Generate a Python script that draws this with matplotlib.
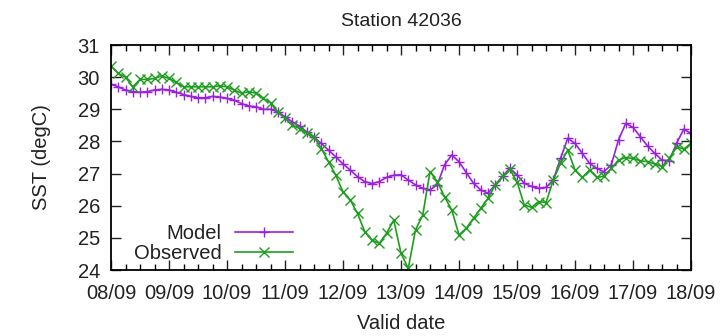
import matplotlib
matplotlib.use("Agg")
import matplotlib.pyplot as plt
import numpy as np
from matplotlib.ticker import MultipleLocator

plt.rcParams['font.family'] = ['Liberation Sans', 'DejaVu Sans']

title = "Station 42036"
xlabel = "Valid date"
ylabel = "SST (degC)"
date_labels = ["08/09", "09/09", "10/09", "11/09", "12/09", "13/09",
               "14/09", "15/09", "16/09", "17/09", "18/09"]
y_ticks = [24, 25, 26, 27, 28, 29, 30, 31]

# 3-hourly values (days since 08/09)
model = [29.78, 29.70, 29.60, 29.55, 29.53, 29.55, 29.60, 29.62, 29.60, 29.53,
         29.46, 29.40, 29.36, 29.36, 29.40, 29.38, 29.34, 29.28, 29.18, 29.10,
         29.08, 29.00, 29.00, 28.92, 28.77, 28.61, 28.48, 28.30, 28.13, 27.94,
         27.73, 27.52, 27.30, 27.11, 26.90, 26.75, 26.69, 26.75, 26.88, 26.95,
         26.96, 26.80, 26.65, 26.54, 26.49, 26.65, 27.27, 27.58, 27.37, 27.03,
         26.70, 26.49, 26.39, 26.65, 26.91, 27.17, 26.96, 26.70, 26.60, 26.54,
         26.57, 26.80, 27.47, 28.10, 27.94, 27.63, 27.32, 27.16, 27.06, 27.27,
         28.05, 28.56, 28.44, 28.15, 27.86, 27.63, 27.42, 27.40, 27.94, 28.38,
         28.25]
observed = [30.35, 30.12, 30.00, 29.70, 29.93, 29.93, 29.96, 30.04, 29.96, 29.84,
            29.70, 29.70, 29.70, 29.70, 29.70, 29.73, 29.70, 29.60, 29.50, 29.55,
            29.50, 29.34, 29.20, 28.92, 28.72, 28.51, 28.40, 28.27, 28.15, 27.78,
            27.37, 26.95, 26.43, 26.18, 25.76, 25.19, 24.93, 24.83, 25.14, 25.55,
            24.52, 24.05, 25.25, 25.71, 27.06, 26.75, 26.28, 25.87, 25.09, 25.30,
            25.61, 25.92, 26.23, 26.65, 26.91, 27.13, 26.75, 26.02, 25.95, 26.13,
            26.10, 26.80, 27.32, 27.73, 27.11, 26.88, 27.11, 26.88, 26.92, 27.16,
            27.42, 27.50, 27.47, 27.40, 27.37, 27.30, 27.22, 27.47, 27.84, 27.76,
            27.94]

t = np.arange(len(model)) * 0.125

fig = plt.figure(figsize=(7.27, 3.36), dpi=100)
ax = fig.add_axes([0.1527, 0.1964, 0.7978, 0.6696])

purple = "#9b1fe0"
green = "#1e9e1e"
ax.plot(t, model, color=purple, lw=1.2, marker='+', ms=7.5, mew=1.0, label="Model")
ax.plot(t, observed, color=green, lw=1.2, marker='x', ms=6.5, mew=1.0, label="Observed")

ax.set_xlim(0, 10)
ax.set_ylim(24, 31)
ax.set_xticks(range(len(date_labels)))
ax.set_xticklabels(date_labels)
ax.xaxis.set_minor_locator(MultipleLocator(0.25))
ax.set_yticks(y_ticks)
ax.tick_params(axis='both', which='major', direction='in', length=7, width=1,
               top=True, right=True, labelsize=14.5, colors='#222222')
ax.tick_params(axis='x', which='major', pad=10)
ax.tick_params(axis='y', which='major', pad=8)
ax.tick_params(axis='x', which='minor', direction='in', length=4, width=1,
               top=True, bottom=True)
for s in ax.spines.values():
    s.set_linewidth(1.3)

ax.set_title(title, fontsize=14, pad=14, color='#222222')
ax.set_xlabel(xlabel, fontsize=14.5, labelpad=8, color='#222222')
ax.set_ylabel(ylabel, fontsize=14.5, labelpad=19, color='#222222')

leg = ax.legend(loc='lower right', bbox_to_anchor=(0.314, 0.03), frameon=False,
                markerfirst=False, fontsize=14.5, handlelength=2.9,
                handletextpad=0.65, labelspacing=0.05, borderpad=0,
                borderaxespad=0)
for txt in leg.get_texts():
    txt.set_ha('right')
    txt.set_color('#222222')

fig.savefig("out.png", dpi=100)
